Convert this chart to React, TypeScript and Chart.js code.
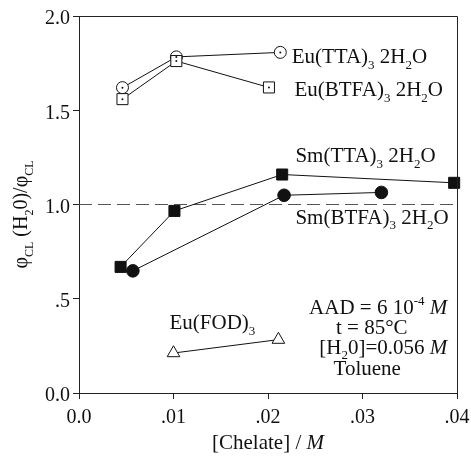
import React, { useEffect, useRef } from "react";
import { Chart, registerables } from "chart.js";

Chart.register(...registerables);

// ---- data ----
const euTTA_x = [0.0046, 0.0103, 0.0213];
const euTTA_y = [1.62, 1.783, 1.807];
const euBTFA_x = [0.0046, 0.0103, 0.0201];
const euBTFA_y = [1.559, 1.761, 1.621];
const smTTA_x = [0.0044, 0.0101, 0.0215, 0.0397];
const smTTA_y = [0.669, 0.966, 1.159, 1.115];
const smBTFA_x = [0.0057, 0.0217, 0.032];
const smBTFA_y = [0.648, 1.049, 1.064];
const euFOD_x = [0.01, 0.0211];
const euFOD_y = [0.212, 0.283];
const refLine_x = [0, 0.04];
const refLine_y = [1, 1];

const xTickValues = [0, 0.01, 0.02, 0.03, 0.04];
const xTickLabels = ["0.0", ".01", ".02", ".03", ".04"];
const yTickValues = [0, 0.5, 1, 1.5, 2];
const yTickLabels = ["0.0", ".5", "1.0", "1.5", "2.0"];

type Seg = { t: string; s?: "sub" | "sup"; i?: boolean };

// labels anchored in data coordinates
const seriesLabels: { x: number; y: number; segs: Seg[]; align: "left" | "center" | "right" }[] = [
  { x: 0.0225, y: 1.749, align: "left", segs: [{ t: "Eu(TTA)" }, { t: "3", s: "sub" }, { t: " 2H" }, { t: "2", s: "sub" }, { t: "O" }] },
  { x: 0.0228, y: 1.577, align: "left", segs: [{ t: "Eu(BTFA)" }, { t: "3", s: "sub" }, { t: " 2H" }, { t: "2", s: "sub" }, { t: "O" }] },
  { x: 0.0229, y: 1.226, align: "left", segs: [{ t: "Sm(TTA)" }, { t: "3", s: "sub" }, { t: " 2H" }, { t: "2", s: "sub" }, { t: "O" }] },
  { x: 0.0229, y: 0.899, align: "left", segs: [{ t: "Sm(BTFA)" }, { t: "3", s: "sub" }, { t: " 2H" }, { t: "2", s: "sub" }, { t: "O" }] },
  { x: 0.00958, y: 0.337, align: "left", segs: [{ t: "Eu(FOD)" }, { t: "3", s: "sub" }] },
  { x: 0.03897, y: 0.4216, align: "right", segs: [{ t: "AAD = 6 10" }, { t: "-4", s: "sup" }, { t: " " }, { t: "M", i: true }] },
  { x: 0.03098, y: 0.3154, align: "center", segs: [{ t: "t = 85°C" }] },
  { x: 0.03897, y: 0.2092, align: "right", segs: [{ t: "[H" }, { t: "2", s: "sub" }, { t: "0]=0.056 " }, { t: "M", i: true }] },
  { x: 0.0305, y: 0.094, align: "center", segs: [{ t: "Toluene" }] },
];

const yTitle: Seg[] = [{ t: "φ" }, { t: "CL", s: "sub" }, { t: " (H" }, { t: "2", s: "sub" }, { t: "0)/φ" }, { t: "CL", s: "sub" }];
const xTitle: Seg[] = [{ t: "[Chelate] / " }, { t: "M", i: true }];

const FONT = '"Liberation Serif", "Times New Roman", serif';

function drawRich(ctx: CanvasRenderingContext2D, segs: Seg[], x: number, y: number, size: number, align: "left" | "center" | "right") {
  const fontFor = (s: Seg) => `${s.i ? "italic " : ""}${s.s ? Math.round(size * 0.62) : size}px ${FONT}`;
  let w = 0;
  for (const s of segs) {
    ctx.font = fontFor(s);
    w += ctx.measureText(s.t).width;
  }
  let cx = align === "left" ? x : align === "center" ? x - w / 2 : x - w;
  ctx.textAlign = "left";
  ctx.textBaseline = "alphabetic";
  for (const s of segs) {
    ctx.font = fontFor(s);
    const dy = s.s === "sub" ? size * 0.28 : s.s === "sup" ? -size * 0.4 : 0;
    ctx.fillText(s.t, cx, y + dy);
    cx += ctx.measureText(s.t).width;
  }
}

const pts = (xs: number[], ys: number[]) => xs.map((x, i) => ({ x, y: ys[i] }));

const decorPlugin = {
  id: "decor",
  afterDraw(chart: any) {
    const ctx: CanvasRenderingContext2D = chart.ctx;
    const { left, right, top, bottom } = chart.chartArea;
    const xs = chart.scales.x;
    const ys = chart.scales.y;
    ctx.save();
    ctx.strokeStyle = "#222";
    ctx.lineWidth = 1;
    ctx.beginPath();
    ctx.moveTo(left, top + 0.5);
    ctx.lineTo(right + 0.5, top + 0.5);
    ctx.lineTo(right + 0.5, bottom);
    ctx.stroke();
    ctx.fillStyle = "#111";
    for (const l of seriesLabels) {
      drawRich(ctx, l.segs, xs.getPixelForValue(l.x), ys.getPixelForValue(l.y), 21, l.align);
    }
    // x title
    drawRich(ctx, xTitle, (left + right) / 2, 449, 21, "center");
    // y title
    ctx.translate(27, (top + bottom) / 2 + 10);
    ctx.rotate(-Math.PI / 2);
    drawRich(ctx, yTitle, 0, 0, 20, "center");
    ctx.restore();
  },
};

export default function App() {
  const ref = useRef<HTMLCanvasElement | null>(null);
  useEffect(() => {
    document.body.style.margin = "0";
    const canvas = ref.current!;
    const common = { showLine: true, borderColor: "#111", borderWidth: 1, pointBorderColor: "#111", pointBorderWidth: 1, clip: false as any };
    const dots = (xs: number[], ys: number[], order: number) => ({
      data: pts(xs, ys), showLine: false, pointRadius: 1, pointBackgroundColor: "#111", pointBorderColor: "#111", pointBorderWidth: 0, order, clip: false as any,
    });
    const chart = new Chart(canvas, {
      type: "scatter",
      data: {
        datasets: [
          { data: pts(refLine_x, refLine_y), showLine: true, borderColor: "#555", borderWidth: 1, borderDash: [13, 6], pointRadius: 0, order: 10 },
          { ...common, data: pts(euTTA_x, euTTA_y), pointStyle: "circle", pointRadius: 6, pointBackgroundColor: "#fff", order: 6 },
          dots(euTTA_x, euTTA_y, 0),
          { ...common, data: pts(euBTFA_x, euBTFA_y), pointStyle: "rect", pointRadius: 7.8, pointBackgroundColor: "#fff", order: 5 },
          dots(euBTFA_x, euBTFA_y, 0),
          { ...common, data: pts(smTTA_x, smTTA_y), pointStyle: "rect", pointRadius: 7.8, pointBackgroundColor: "#111", order: 4 },
          { ...common, data: pts(smBTFA_x, smBTFA_y), pointStyle: "circle", pointRadius: 6.3, pointBackgroundColor: "#111", order: 3 },
          { ...common, data: pts(euFOD_x, euFOD_y), pointStyle: "triangle", pointRadius: 7.3, pointBackgroundColor: "#fff", order: 3 },
        ] as any,
      },
      options: {
        responsive: false,
        animation: false,
        events: [],
        layout: { padding: { top: 16, right: 14, left: 0, bottom: 0 } },
        plugins: { legend: { display: false }, tooltip: { enabled: false } },
        scales: {
          x: {
            type: "linear",
            min: 0,
            max: 0.04,
            afterFit: (s: any) => { s.height = 64; s.paddingLeft = 0; s.paddingRight = 0; },
            afterBuildTicks: (s: any) => { s.ticks = xTickValues.map((v) => ({ value: v })); },
            ticks: {
              callback: (_v: any, i: number) => xTickLabels[i],
              font: { family: FONT, size: 20 },
              color: "#111",
              padding: 7,
              maxRotation: 0,
              autoSkip: false,
            },
            grid: { display: true, drawOnChartArea: false, drawTicks: true, tickLength: 6, color: "#222" },
            border: { display: true, color: "#222", width: 1 },
          },
          y: {
            type: "linear",
            min: 0,
            max: 2,
            afterFit: (s: any) => { s.width = 79; s.paddingTop = 0; s.paddingBottom = 0; },
            afterBuildTicks: (s: any) => { s.ticks = yTickValues.map((v) => ({ value: v })); },
            ticks: {
              callback: (_v: any, i: number) => ["", yTickLabels[i]],
              font: { family: FONT, size: 20, lineHeight: "6px" },
              color: "#111",
              padding: 3,
              autoSkip: false,
            },
            grid: { display: true, drawOnChartArea: false, drawTicks: true, tickLength: 6, color: "#222" },
            border: { display: true, color: "#222", width: 1 },
          },
        },
      } as any,
      plugins: [decorPlugin],
    });
    return () => chart.destroy();
  }, []);
  return <canvas ref={ref} width={471} height={457} style={{ display: "block" }} />;
}
